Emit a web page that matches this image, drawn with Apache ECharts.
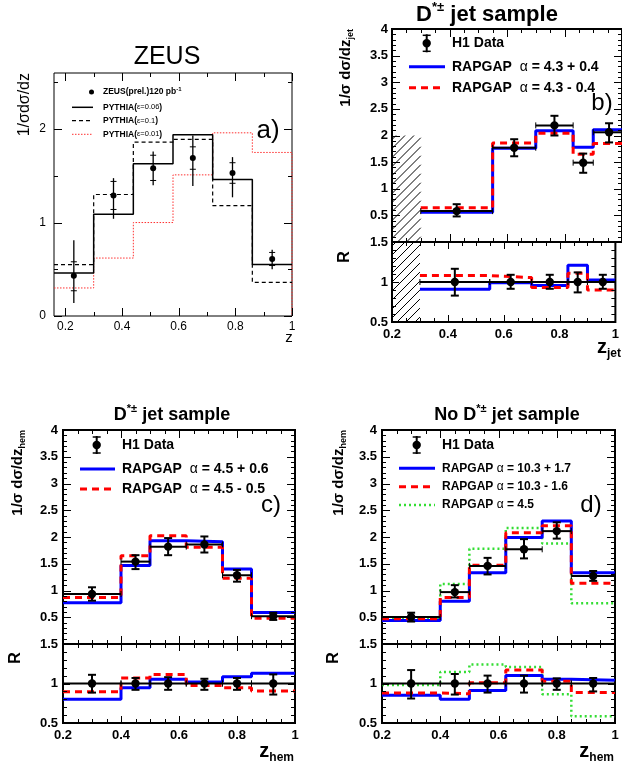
<!DOCTYPE html>
<html><head><meta charset="utf-8">
<script src="https://cdn.jsdelivr.net/npm/echarts@6/dist/echarts.min.js"></script>
<style>html,body{margin:0;padding:0;background:#fff}#c{width:622px;height:765px}#log{position:absolute;left:0;top:372px;font:9px monospace;color:#c00;white-space:pre-wrap;width:622px}</style>
</head><body><div id="c"></div><div id="log"></div>
<script>
window.onerror = function (m) { document.getElementById('log').textContent += 'ERR ' + m + '\n'; };
// ---------------- Panel a (ZEUS) ----------------
const aEdges = [0.16, 0.30, 0.44, 0.58, 0.72, 0.86, 1.00];
const aCenters = [0.23, 0.37, 0.51, 0.65, 0.79, 0.93];
const aData = [0.43, 1.29, 1.58, 1.69, 1.53, 0.61];
const aTotLo = [0.14, 1.04, 1.40, 1.39, 1.27, 0.50];
const aTotHi = [0.81, 1.475, 1.76, 1.93, 1.70, 0.71];
const aStatLo = [0.27, 1.14, 1.45, 1.57, 1.42, 0.54];
const aStatHi = [0.58, 1.44, 1.72, 1.81, 1.64, 0.68];
const aPythia006 = [0.46, 1.09, 1.63, 1.94, 1.46, 0.55];
const aPythia01 = [0.55, 1.30, 1.86, 1.89, 1.18, 0.36];
const aPythia001 = [0.30, 0.62, 1.00, 1.51, 1.96, 1.75];

// ---------------- Panel b (H1, D* jet, z_jet) ----------------
const bEdges = [0.30, 0.55, 0.70, 0.83, 0.90, 1.00];
const bPoints = [0.425, 0.625, 0.765, 0.865, 0.955];
const bData = [0.58, 1.77, 2.19, 1.49, 2.06];
const bLo = [0.48, 1.61, 2.00, 1.30, 1.87];
const bHi = [0.71, 1.93, 2.37, 1.66, 2.23];
const bBlue = [0.56, 1.76, 2.09, 1.78, 2.11];
const bRed = [0.645, 1.86, 2.04, 1.65, 1.85];
const bRatio = [1, 1, 1, 1, 1];
const bRatioLo = [0.83, 0.915, 0.915, 0.87, 0.915];
const bRatioHi = [1.165, 1.09, 1.09, 1.12, 1.09];
const bBlueR = [0.91, 0.99, 0.955, 1.21, 1.025];
const bRedR = [1.08, 1.055, 0.93, 1.11, 0.90];
const bExcluded = [0.2, 0.3];   // hatched (excluded) z range

// ---------------- Panel c (H1, D* jet, z_hem) ----------------
const cEdges = [0.20, 0.40, 0.50, 0.625, 0.75, 0.85, 1.00];
const cPoints = [0.30, 0.45, 0.5625, 0.6875, 0.80, 0.925];
const cData = [0.935, 1.54, 1.82, 1.86, 1.285, 0.52];
const cLo = [0.81, 1.40, 1.66, 1.71, 1.165, 0.45];
const cHi = [1.06, 1.66, 1.98, 2.01, 1.385, 0.585];
const cBlue = [0.77, 1.465, 1.93, 1.91, 1.40, 0.59];
const cRed = [0.87, 1.65, 2.025, 1.81, 1.23, 0.48];
const cRatio = [1, 1, 1, 1, 1, 1];
const cRatioLo = [0.885, 0.92, 0.92, 0.92, 0.92, 0.86];
const cRatioHi = [1.11, 1.07, 1.08, 1.06, 1.07, 1.115];
const cBlueR = [0.80, 0.945, 1.055, 1.02, 1.085, 1.13];
const cRedR = [0.895, 1.07, 1.115, 0.975, 0.945, 0.905];

// ---------------- Panel d (H1, no D* jet, z_hem) ----------------
const dEdges = [0.20, 0.40, 0.50, 0.625, 0.75, 0.85, 1.00];
const dPoints = [0.30, 0.45, 0.5625, 0.6875, 0.80, 0.925];
const dData = [0.505, 0.97, 1.46, 1.77, 2.11, 1.27];
const dLo = [0.42, 0.87, 1.30, 1.60, 1.97, 1.18];
const dHi = [0.585, 1.10, 1.61, 1.96, 2.275, 1.365];
const dBlue = [0.44, 0.80, 1.33, 1.99, 2.30, 1.33];
const dRed = [0.47, 0.87, 1.47, 2.08, 2.21, 1.135];
const dGreen = [0.48, 1.12, 1.78, 2.17, 1.88, 0.76];
const dRatio = [1, 1, 1, 1, 1, 1];
const dRatioLo = [0.81, 0.86, 0.885, 0.885, 0.92, 0.90];
const dRatioHi = [1.17, 1.12, 1.10, 1.10, 1.065, 1.07];
const dBlueR = [0.85, 0.80, 0.91, 1.10, 1.055, 1.04];
const dRedR = [0.88, 0.87, 1.01, 1.17, 1.03, 0.885];
const dGreenR = [0.98, 1.145, 1.24, 1.21, 0.865, 0.585];

// ---------------- Tick labels ----------------
const aXTickLabels = [0.2, 0.4, 0.6, 0.8, 1];
const aYTickLabels = [0, 1, 2];
const zTickLabels = [0.2, 0.4, 0.6, 0.8, 1];
const mainYTickLabels = [0.5, 1, 1.5, 2, 2.5, 3, 3.5, 4];
const ratioYTickLabels = [0.5, 1, 1.5];

const FONT = "'Liberation Sans', Arial, Helvetica, sans-serif";
function range(a, b, s) { const r = []; for (let v = a; v <= b + 1e-9; v += s) r.push(+v.toFixed(4)); return r; }

const zMinor = range(0.2, 1.0, 0.05);
const G = [
  {l: 54, t: 73, w: 238, h: 243, x: [0.16, 1], y: [0, 2.6], xMaj: aXTickLabels, xMin: range(0.2, 1, 0.1),
   yMaj: aYTickLabels, yMin: range(0, 2.5, 0.5), xLab: true, bold: false, fs: 12, majL: 8, minL: 4, bw: 1, xm: 5, ym: 8},
  {l: 392, t: 29, w: 234, h: 213, x: [0.2, 1], y: [0, 4], xMaj: zTickLabels, xMin: zMinor,
   yMaj: mainYTickLabels, yMin: range(0, 4, 0.1), xLab: false, bold: true, fs: 13, majL: 8, minL: 4, bw: 2, xm: 6, ym: 4},
  {l: 392, t: 242, w: 234, h: 80, x: [0.2, 1], y: [0.5, 1.5], xMaj: zTickLabels, xMin: zMinor,
   yMaj: ratioYTickLabels, yMin: range(0.5, 1.5, 0.1), xLab: true, bold: true, fs: 13, majL: 7, minL: 4, bw: 2, xm: 6, ym: 4},
  {l: 63, t: 430, w: 232, h: 214, x: [0.2, 1], y: [0, 4], xMaj: zTickLabels, xMin: zMinor,
   yMaj: mainYTickLabels, yMin: range(0, 4, 0.1), xLab: false, bold: true, fs: 13, majL: 8, minL: 4, bw: 2, xm: 6, ym: 5},
  {l: 63, t: 644, w: 232, h: 79, x: [0.2, 1], y: [0.5, 1.5], xMaj: zTickLabels, xMin: zMinor,
   yMaj: ratioYTickLabels, yMin: range(0.5, 1.5, 0.1), xLab: true, bold: true, fs: 13, majL: 7, minL: 4, bw: 2, xm: 6, ym: 5},
  {l: 382, t: 430, w: 233, h: 214, x: [0.2, 1], y: [0, 4], xMaj: zTickLabels, xMin: zMinor,
   yMaj: mainYTickLabels, yMin: range(0, 4, 0.1), xLab: false, bold: true, fs: 13, majL: 8, minL: 4, bw: 2, xm: 6, ym: 5},
  {l: 382, t: 644, w: 233, h: 79, x: [0.2, 1], y: [0.5, 1.5], xMaj: zTickLabels, xMin: zMinor,
   yMaj: ratioYTickLabels, yMin: range(0.5, 1.5, 0.1), xLab: true, bold: true, fs: 13, majL: 7, minL: 4, bw: 2, xm: 6, ym: 5}
];

// one x and one y axis per frame; the frame itself is drawn by the grid border
const grid = [], xAxis = [], yAxis = [];
G.forEach((g, i) => {
  grid.push({left: g.l, top: g.t, width: g.w, height: g.h, show: true, borderColor: '#000', borderWidth: g.bw,
    backgroundColor: 'transparent', containLabel: false});
  const lab = (show, vals, m) => show ? {show: true, customValues: vals, margin: m, color: '#000', fontFamily: FONT, fontSize: g.fs,
    fontWeight: g.bold ? 'bold' : 'normal'} : {show: false};
  const base = (mm, pos) => ({gridIndex: i, type: 'value', min: mm[0], max: mm[1], position: pos, splitLine: {show: false},
    axisLine: {show: false, onZero: false}, axisTick: {show: false}});
  xAxis.push(Object.assign(base(g.x, 'bottom'), {axisLabel: lab(g.xLab, g.xMaj, g.xm)}));
  yAxis.push(Object.assign(base(g.y, 'left'), {axisLabel: lab(true, g.yMaj, g.ym)}));
});

function histo(gi, edges, vals, color, width, type, extra) {
  const d = edges.slice(0, -1).map((e, i) => [e, vals[i]]);
  d.push([edges[edges.length - 1], vals[vals.length - 1]]);
  if (extra) extra.forEach(p => d.push(p));
  return {type: 'line', xAxisIndex: gi, yAxisIndex: gi, step: 'end', data: d, symbol: 'none', silent: true,
    lineStyle: {color, width, type, cap: 'butt'}, z: 5};
}

// error bar + marker series
function errSeries(gi, xs, ys, lo, hi, edges, opt) {
  const data = xs.map((x, i) => [x, ys[i], lo[i], hi[i],
    edges ? edges[i] : x, edges ? edges[i + 1] : x,
    opt.slo ? opt.slo[i] : ys[i], opt.shi ? opt.shi[i] : ys[i]]);
  return {type: 'custom', xAxisIndex: gi, yAxisIndex: gi, data, z: 10, silent: true, clip: false,
    encode: {x: 0, y: 1},
    renderItem(params, api) {
      const x = api.value(0), y = api.value(1);
      const c = api.coord([x, y]);
      const l = api.coord([x, api.value(2)]), h = api.coord([x, api.value(3)]);
      const ch = [];
      const st = () => ({stroke: '#000', lineWidth: opt.lw});
      const thin = () => ({stroke: '#000', lineWidth: 1});
      ch.push({type: 'line', shape: {x1: c[0], y1: h[1], x2: c[0], y2: l[1]}, style: st()});
      if (opt.cap) {
        ch.push({type: 'line', shape: {x1: c[0] - opt.cap, y1: h[1], x2: c[0] + opt.cap, y2: h[1]}, style: st()});
        ch.push({type: 'line', shape: {x1: c[0] - opt.cap, y1: l[1], x2: c[0] + opt.cap, y2: l[1]}, style: st()});
      }
      if (opt.slo) {
        const sl = api.coord([x, api.value(6)]), sh = api.coord([x, api.value(7)]);
        ch.push({type: 'line', shape: {x1: c[0] - opt.stick, y1: sl[1], x2: c[0] + opt.stick, y2: sl[1]}, style: thin()});
        ch.push({type: 'line', shape: {x1: c[0] - opt.stick, y1: sh[1], x2: c[0] + opt.stick, y2: sh[1]}, style: thin()});
      }
      if (edges) {
        const xl = api.coord([api.value(4), y]), xh = api.coord([api.value(5), y]);
        ch.push({type: 'line', shape: {x1: xl[0], y1: c[1], x2: xh[0], y2: c[1]}, style: st()});
        ch.push({type: 'line', shape: {x1: xl[0], y1: c[1] - 3, x2: xl[0], y2: c[1] + 3}, style: thin()});
        ch.push({type: 'line', shape: {x1: xh[0], y1: c[1] - 3, x2: xh[0], y2: c[1] + 3}, style: thin()});
      }
      if (opt.r) ch.push({type: 'circle', shape: {cx: c[0], cy: c[1], r: opt.r}, style: {fill: '#000'}});
      return {type: 'group', children: ch};
    }};
}

function hatchSeries(gi, xr, yr) {
  return {type: 'custom', xAxisIndex: gi, yAxisIndex: gi, data: [[xr[0], xr[1], yr[0], yr[1]]], z: 4, silent: true,
    encode: {x: [0, 1], y: [2, 3]},
    renderItem(params, api) {
      const p0 = api.coord([api.value(0), api.value(2)]);
      const p1 = api.coord([api.value(1), api.value(3)]);
      const L = p0[0], R = p1[0], B = p0[1], T = p1[1];
      const ch = [];
      const step = 9;
      for (let k = T + 4; k <= B + (R - L); k += step) {
        const xa = Math.max(L, L + k - B), xb = Math.min(R, L + k - T);
        if (xb > xa) ch.push({type: 'line', shape: {x1: xa, y1: k - (xa - L), x2: xb, y2: k - (xb - L)}, style: {stroke: '#000', lineWidth: 1}});
      }
      return {type: 'group', children: ch};
    }};
}

const BLUE = '#0000ff', RED = '#ff0000', GREEN = '#33dd33';
const series = [
  // panel a
  histo(0, aEdges, aPythia001, '#ff3030', 1, [1.5, 1.5], [[1.0, 0]]),
  histo(0, aEdges, aPythia01, '#000', 1.2, [4, 3]),
  histo(0, aEdges, aPythia006, '#000', 1.5, 'solid'),
  errSeries(0, aCenters, aData, aTotLo, aTotHi, null, {lw: 1.3, r: 3, slo: aStatLo, shi: aStatHi, stick: 3}),
  // panel b
  hatchSeries(1, bExcluded, [0, 2]),
  hatchSeries(2, bExcluded, [0.5, 1.5]),
  histo(1, bEdges, bBlue, BLUE, 3, 'solid'),
  histo(1, bEdges, bRed, RED, 3, [7, 5]),
  errSeries(1, bPoints, bData, bLo, bHi, bEdges, {lw: 2, r: 4.2, cap: 4}),
  histo(2, bEdges, bBlueR, BLUE, 3, 'solid'),
  histo(2, bEdges, bRedR, RED, 3, [7, 5]),
  errSeries(2, bPoints, bRatio, bRatioLo, bRatioHi, bEdges, {lw: 2, r: 4.2, cap: 4}),
  // panel c
  histo(3, cEdges, cBlue, BLUE, 3, 'solid'),
  histo(3, cEdges, cRed, RED, 3, [7, 5]),
  errSeries(3, cPoints, cData, cLo, cHi, cEdges, {lw: 2, r: 4.2, cap: 4}),
  histo(4, cEdges, cBlueR, BLUE, 3, 'solid'),
  histo(4, cEdges, cRedR, RED, 3, [7, 5]),
  errSeries(4, cPoints, cRatio, cRatioLo, cRatioHi, cEdges, {lw: 2, r: 4.2, cap: 4}),
  // panel d
  histo(5, dEdges, dGreen, GREEN, 2.5, [2, 3]),
  histo(5, dEdges, dBlue, BLUE, 3, 'solid'),
  histo(5, dEdges, dRed, RED, 3, [7, 5]),
  errSeries(5, dPoints, dData, dLo, dHi, dEdges, {lw: 2, r: 4.2, cap: 4}),
  histo(6, dEdges, dGreenR, GREEN, 2.5, [2, 3]),
  histo(6, dEdges, dBlueR, BLUE, 3, 'solid'),
  histo(6, dEdges, dRedR, RED, 3, [7, 5]),
  errSeries(6, dPoints, dRatio, dRatioLo, dRatioHi, dEdges, {lw: 2, r: 4.2, cap: 4})
];

// ---------------- text & legends (graphic) ----------------
const gr = [];
function T(x, y, text, o) {
  o = o || {};
  gr.push({type: 'text', x, y, rotation: o.rot || 0, silent: true, z: 50,
    style: {text, fill: o.color || '#000', font: (o.bold ? 'bold ' : '') + (o.fs || 12) + 'px ' + FONT,
      align: o.align || 'left', verticalAlign: o.va || 'middle', rich: o.rich}});
}
function Ln(x1, y1, x2, y2, color, w, dash) {
  gr.push({type: 'line', silent: true, z: 50, shape: {x1, y1, x2, y2}, style: {stroke: color, lineWidth: w, lineDash: dash || null}});
}
function dataMarker(x, y, r, half) {
  Ln(x, y - half, x, y + half, '#000', 2);
  Ln(x - 4, y - half + 1, x + 4, y - half + 1, '#000', 1.5);
  Ln(x - 4, y + half - 1, x + 4, y + half - 1, '#000', 1.5);
  gr.push({type: 'circle', silent: true, z: 51, shape: {cx: x, cy: y, r}, style: {fill: '#000'}});
}
const boldRich = (fs) => ({
  m: {fontFamily: FONT, fontWeight: 'bold', fontSize: fs, lineHeight: Math.round(fs * 1.25)},
  sup: {fontFamily: FONT, fontWeight: 'bold', fontSize: Math.round(fs * 0.6), lineHeight: Math.round(fs * 0.55), verticalAlign: 'top'},
  sub: {fontFamily: FONT, fontWeight: 'bold', fontSize: Math.round(fs * 0.58), lineHeight: Math.round(fs * 0.55), verticalAlign: 'bottom'},
  al: {fontFamily: FONT, fontWeight: 'normal', fontSize: fs, lineHeight: Math.round(fs * 1.25)}
});

// panel a
T(167, 57, 'ZEUS', {fs: 25, align: 'center'});
T(25, 73, '1/σdσ/dz', {fs: 16, rot: Math.PI / 2, align: 'right'});
T(268, 131, 'a)', {fs: 26, align: 'center'});
T(289, 338, 'z', {fs: 15, align: 'center'});
gr.push({type: 'circle', silent: true, z: 51, shape: {cx: 91.5, cy: 92, r: 2.5}, style: {fill: '#000'}});
const aRich = {
  m: {fontFamily: FONT, fontWeight: 'bold', fontSize: 8.5, lineHeight: 12},
  e: {fontFamily: FONT, fontWeight: 'normal', fontSize: 7.5, lineHeight: 12},
  sup: {fontFamily: FONT, fontWeight: 'bold', fontSize: 6, lineHeight: 6, verticalAlign: 'top'}
};
T(103, 92, '{m|ZEUS(prel.)120 pb}{sup|-1}', {rich: aRich});
Ln(72, 107.3, 93, 107.3, '#000', 1.5);
T(103, 107.3, '{m|PYTHIA(}{e|ε=0.06}{m|)}', {rich: aRich});
Ln(72, 120.7, 93, 120.7, '#000', 1.2, [4, 3]);
T(103, 120.7, '{m|PYTHIA(}{e|ε=0.1}{m|)}', {rich: aRich});
Ln(72, 134.3, 93, 134.3, '#ff3030', 1, [1.5, 1.5]);
T(103, 134.3, '{m|PYTHIA(}{e|ε=0.01}{m|)}', {rich: aRich});

// panel b
T(487, 15, '{m|D}{sup|*±}{m| jet sample}', {align: 'center', rich: boldRich(22)});
T(346, 29, '{m|1/σ dσ/dz}{sub|jet}', {align: 'right', rot: Math.PI / 2, rich: boldRich(15)});
T(345, 257, 'R', {bold: true, fs: 16, align: 'center', rot: Math.PI / 2});
T(621, 347, '{m|z}{sub|jet}', {align: 'right', rich: boldRich(20)});
T(602, 103.5, 'b)', {fs: 24, align: 'center'});
dataMarker(426.7, 43.3, 4.2, 9);
T(452, 43.3, 'H1 Data', {bold: true, fs: 14});
Ln(409, 66.7, 445, 66.7, BLUE, 3);
T(452, 66.7, '{m|RAPGAP  }{al|α}{m| = 4.3 + 0.4}', {rich: boldRich(14)});
Ln(409, 87.7, 445, 87.7, RED, 3, [7, 5]);
T(452, 87.7, '{m|RAPGAP  }{al|α}{m| = 4.3 - 0.4}', {rich: boldRich(14)});

// panel c
T(172, 415, '{m|D}{sup|*±}{m| jet sample}', {align: 'center', rich: boldRich(18)});
T(18, 430, '{m|1/σ dσ/dz}{sub|hem}', {align: 'right', rot: Math.PI / 2, rich: boldRich(15)});
T(16, 658, 'R', {bold: true, fs: 16, align: 'center', rot: Math.PI / 2});
T(294, 751, '{m|z}{sub|hem}', {align: 'right', rich: boldRich(20)});
T(271, 505, 'c)', {fs: 24, align: 'center'});
dataMarker(96.7, 445, 4.2, 9);
T(122, 445, 'H1 Data', {bold: true, fs: 14});
Ln(80, 469, 115, 469, BLUE, 3);
T(122, 469, '{m|RAPGAP  }{al|α}{m| = 4.5 + 0.6}', {rich: boldRich(14)});
Ln(80, 489, 115, 489, RED, 3, [7, 5]);
T(122, 489, '{m|RAPGAP  }{al|α}{m| = 4.5 - 0.5}', {rich: boldRich(14)});

// panel d
T(507, 415, '{m|No D}{sup|*±}{m| jet sample}', {align: 'center', rich: boldRich(18)});
T(339, 430, '{m|1/σ dσ/dz}{sub|hem}', {align: 'right', rot: Math.PI / 2, rich: boldRich(15)});
T(334, 658, 'R', {bold: true, fs: 16, align: 'center', rot: Math.PI / 2});
T(614, 751, '{m|z}{sub|hem}', {align: 'right', rich: boldRich(20)});
T(591, 505, 'd)', {fs: 24, align: 'center'});
dataMarker(416.7, 445, 4.2, 9);
T(442, 445, 'H1 Data', {bold: true, fs: 14});
Ln(399, 468.3, 435, 468.3, BLUE, 3);
T(442, 468.3, '{m|RAPGAP }{al|α}{m| = 10.3 + 1.7}', {rich: boldRich(12)});
Ln(399, 486.7, 435, 486.7, RED, 3, [7, 5]);
T(442, 486.7, '{m|RAPGAP }{al|α}{m| = 10.3 - 1.6}', {rich: boldRich(12)});
Ln(399, 505, 435, 505, GREEN, 2.5, [2, 3]);
T(442, 505, '{m|RAPGAP }{al|α}{m| = 4.5}', {rich: boldRich(12)});

const chart = echarts.init(document.getElementById('c'));
chart.setOption({animation: false, grid, xAxis, yAxis, series});

// ROOT-style inward ticks on all four sides, positioned with the axes' own scales (convertToPixel)
const tickEls = [];
G.forEach((g, i) => {
  const f = {xAxisIndex: i, yAxisIndex: i};
  const px = (v) => Math.round(v) + 0.5;
  const addX = (v, len) => {
    const b = chart.convertToPixel(f, [v, g.y[0]]), t = chart.convertToPixel(f, [v, g.y[1]]);
    if (!b || !t) return;
    const x = px(b[0]);
    tickEls.push({type: 'line', silent: true, z: 40, shape: {x1: x, y1: b[1], x2: x, y2: b[1] - len}, style: {stroke: '#000', lineWidth: 1}});
    tickEls.push({type: 'line', silent: true, z: 40, shape: {x1: x, y1: t[1], x2: x, y2: t[1] + len}, style: {stroke: '#000', lineWidth: 1}});
  };
  const addY = (v, len) => {
    const a = chart.convertToPixel(f, [g.x[0], v]), b = chart.convertToPixel(f, [g.x[1], v]);
    if (!a || !b) return;
    const y = px(a[1]);
    tickEls.push({type: 'line', silent: true, z: 40, shape: {x1: a[0], y1: y, x2: a[0] + len, y2: y}, style: {stroke: '#000', lineWidth: 1}});
    tickEls.push({type: 'line', silent: true, z: 40, shape: {x1: b[0], y1: y, x2: b[0] - len, y2: y}, style: {stroke: '#000', lineWidth: 1}});
  };
  g.xMaj.forEach(v => addX(v, g.majL));
  g.xMin.forEach(v => addX(v, g.minL));
  g.yMaj.forEach(v => addY(v, g.majL));
  g.yMin.forEach(v => addY(v, g.minL));
});
chart.setOption({graphic: {elements: gr.concat(tickEls)}});
</script>
</body></html>
